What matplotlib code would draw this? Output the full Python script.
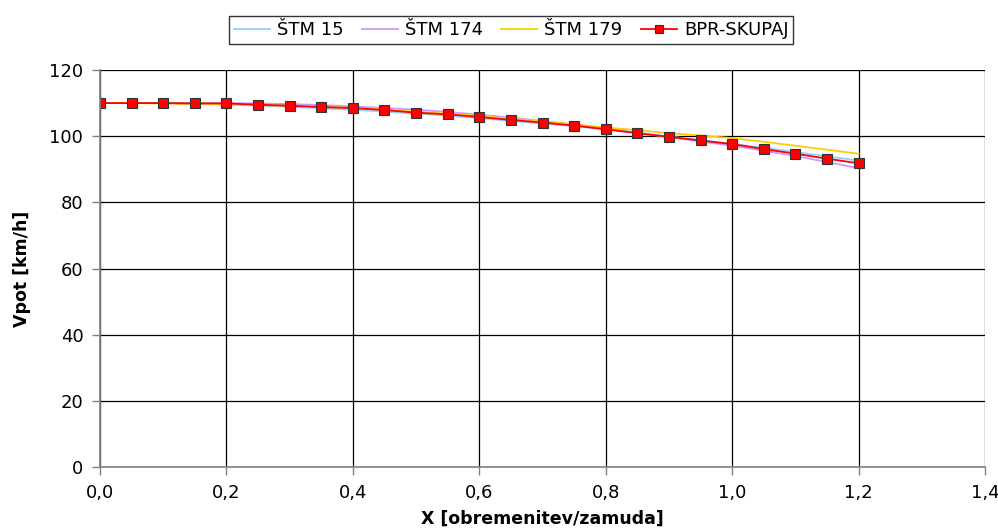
import matplotlib
matplotlib.use("Agg")
import matplotlib.pyplot as plt
from matplotlib.ticker import FuncFormatter

plt.rcParams["font.family"] = ["DejaVu Sans"]

x = [0.00, 0.05, 0.10, 0.15, 0.20, 0.25, 0.30, 0.35, 0.40, 0.45, 0.50, 0.55,
     0.60, 0.65, 0.70, 0.75, 0.80, 0.85, 0.90, 0.95, 1.00, 1.05, 1.10, 1.15, 1.20]

stm_15 = [110.0, 110.0, 110.0, 109.8, 109.6, 109.2, 108.9, 108.4, 108.0, 107.4,
          106.8, 106.2, 105.4, 104.6, 103.8, 103.0, 102.0, 101.0, 99.9, 98.8,
          97.7, 96.5, 95.2, 93.9, 92.6]
stm_174 = [110.0, 110.0, 110.0, 110.0, 110.0, 109.9, 109.7, 109.4, 109.0, 108.5,
           108.0, 107.3, 106.5, 105.6, 104.6, 103.5, 102.3, 101.0, 99.7, 98.4,
           97.1, 95.6, 94.0, 92.2, 90.3]
stm_179 = [110.0, 110.0, 109.9, 109.7, 109.6, 109.4, 109.2, 108.9, 108.5, 108.0,
           107.4, 106.8, 106.1, 105.3, 104.5, 103.6, 102.6, 101.8, 100.9, 100.2,
           99.4, 98.3, 97.1, 95.9, 94.7]
bpr_skupaj = [110.0, 110.0, 110.0, 109.9, 109.9, 109.5, 109.2, 108.8, 108.5, 107.9,
              107.1, 106.6, 105.8, 104.9, 104.1, 103.2, 102.1, 100.9, 99.8, 98.7,
              97.6, 96.1, 94.7, 93.2, 91.8]

fig = plt.figure(figsize=(9.98, 5.32), dpi=100)
ax = fig.add_axes([100 / 998, 65 / 532, 885 / 998, 397 / 532])

ax.plot(x, stm_15, color="#99CCFF", lw=1.3, label="ŠTM 15")
ax.plot(x, stm_174, color="#CC99FF", lw=1.3, label="ŠTM 174")
ax.plot(x, stm_179, color="#FFCC00", lw=1.3, label="ŠTM 179")
ax.plot(x, bpr_skupaj, color="#FF0000", lw=1.3, marker="s", markersize=6.5,
        markerfacecolor="#FF0000", markeredgecolor="#333333", markeredgewidth=0.8,
        label="BPR-SKUPAJ")

ax.set_xlim(0, 1.4)
ax.set_ylim(0, 120)
ax.set_xticks([0.0, 0.2, 0.4, 0.6, 0.8, 1.0, 1.2, 1.4])
ax.set_yticks(range(0, 121, 20))
ax.xaxis.set_major_formatter(FuncFormatter(lambda v, p: f"{v:.1f}".replace(".", ",")))
ax.grid(True, color="black", lw=0.9)
ax.set_axisbelow(True)

for side in ("top", "right"):
    ax.spines[side].set_visible(False)
for side in ("left", "bottom"):
    ax.spines[side].set_color("#808080")
    ax.spines[side].set_linewidth(1.2)

ax.tick_params(axis="both", direction="out", length=6, width=1, color="#808080",
               labelsize=13, pad=6)
ax.set_xlabel("X [obremenitev/zamuda]", fontsize=12.5, fontweight="bold", labelpad=6)
ax.set_ylabel("Vpot [km/h]", fontsize=12.5, fontweight="bold", labelpad=13)

leg = fig.legend(loc="center", bbox_to_anchor=(511 / 998, 1 - 30 / 532), ncol=4,
                 fontsize=13, frameon=True, fancybox=False, handlelength=2.0,
                 handletextpad=0.4, columnspacing=1.0, borderpad=0.25,
                 markerscale=0.8)
leg.get_frame().set_edgecolor("black")
leg.get_frame().set_linewidth(1.0)

fig.savefig("out.png", dpi=100)
